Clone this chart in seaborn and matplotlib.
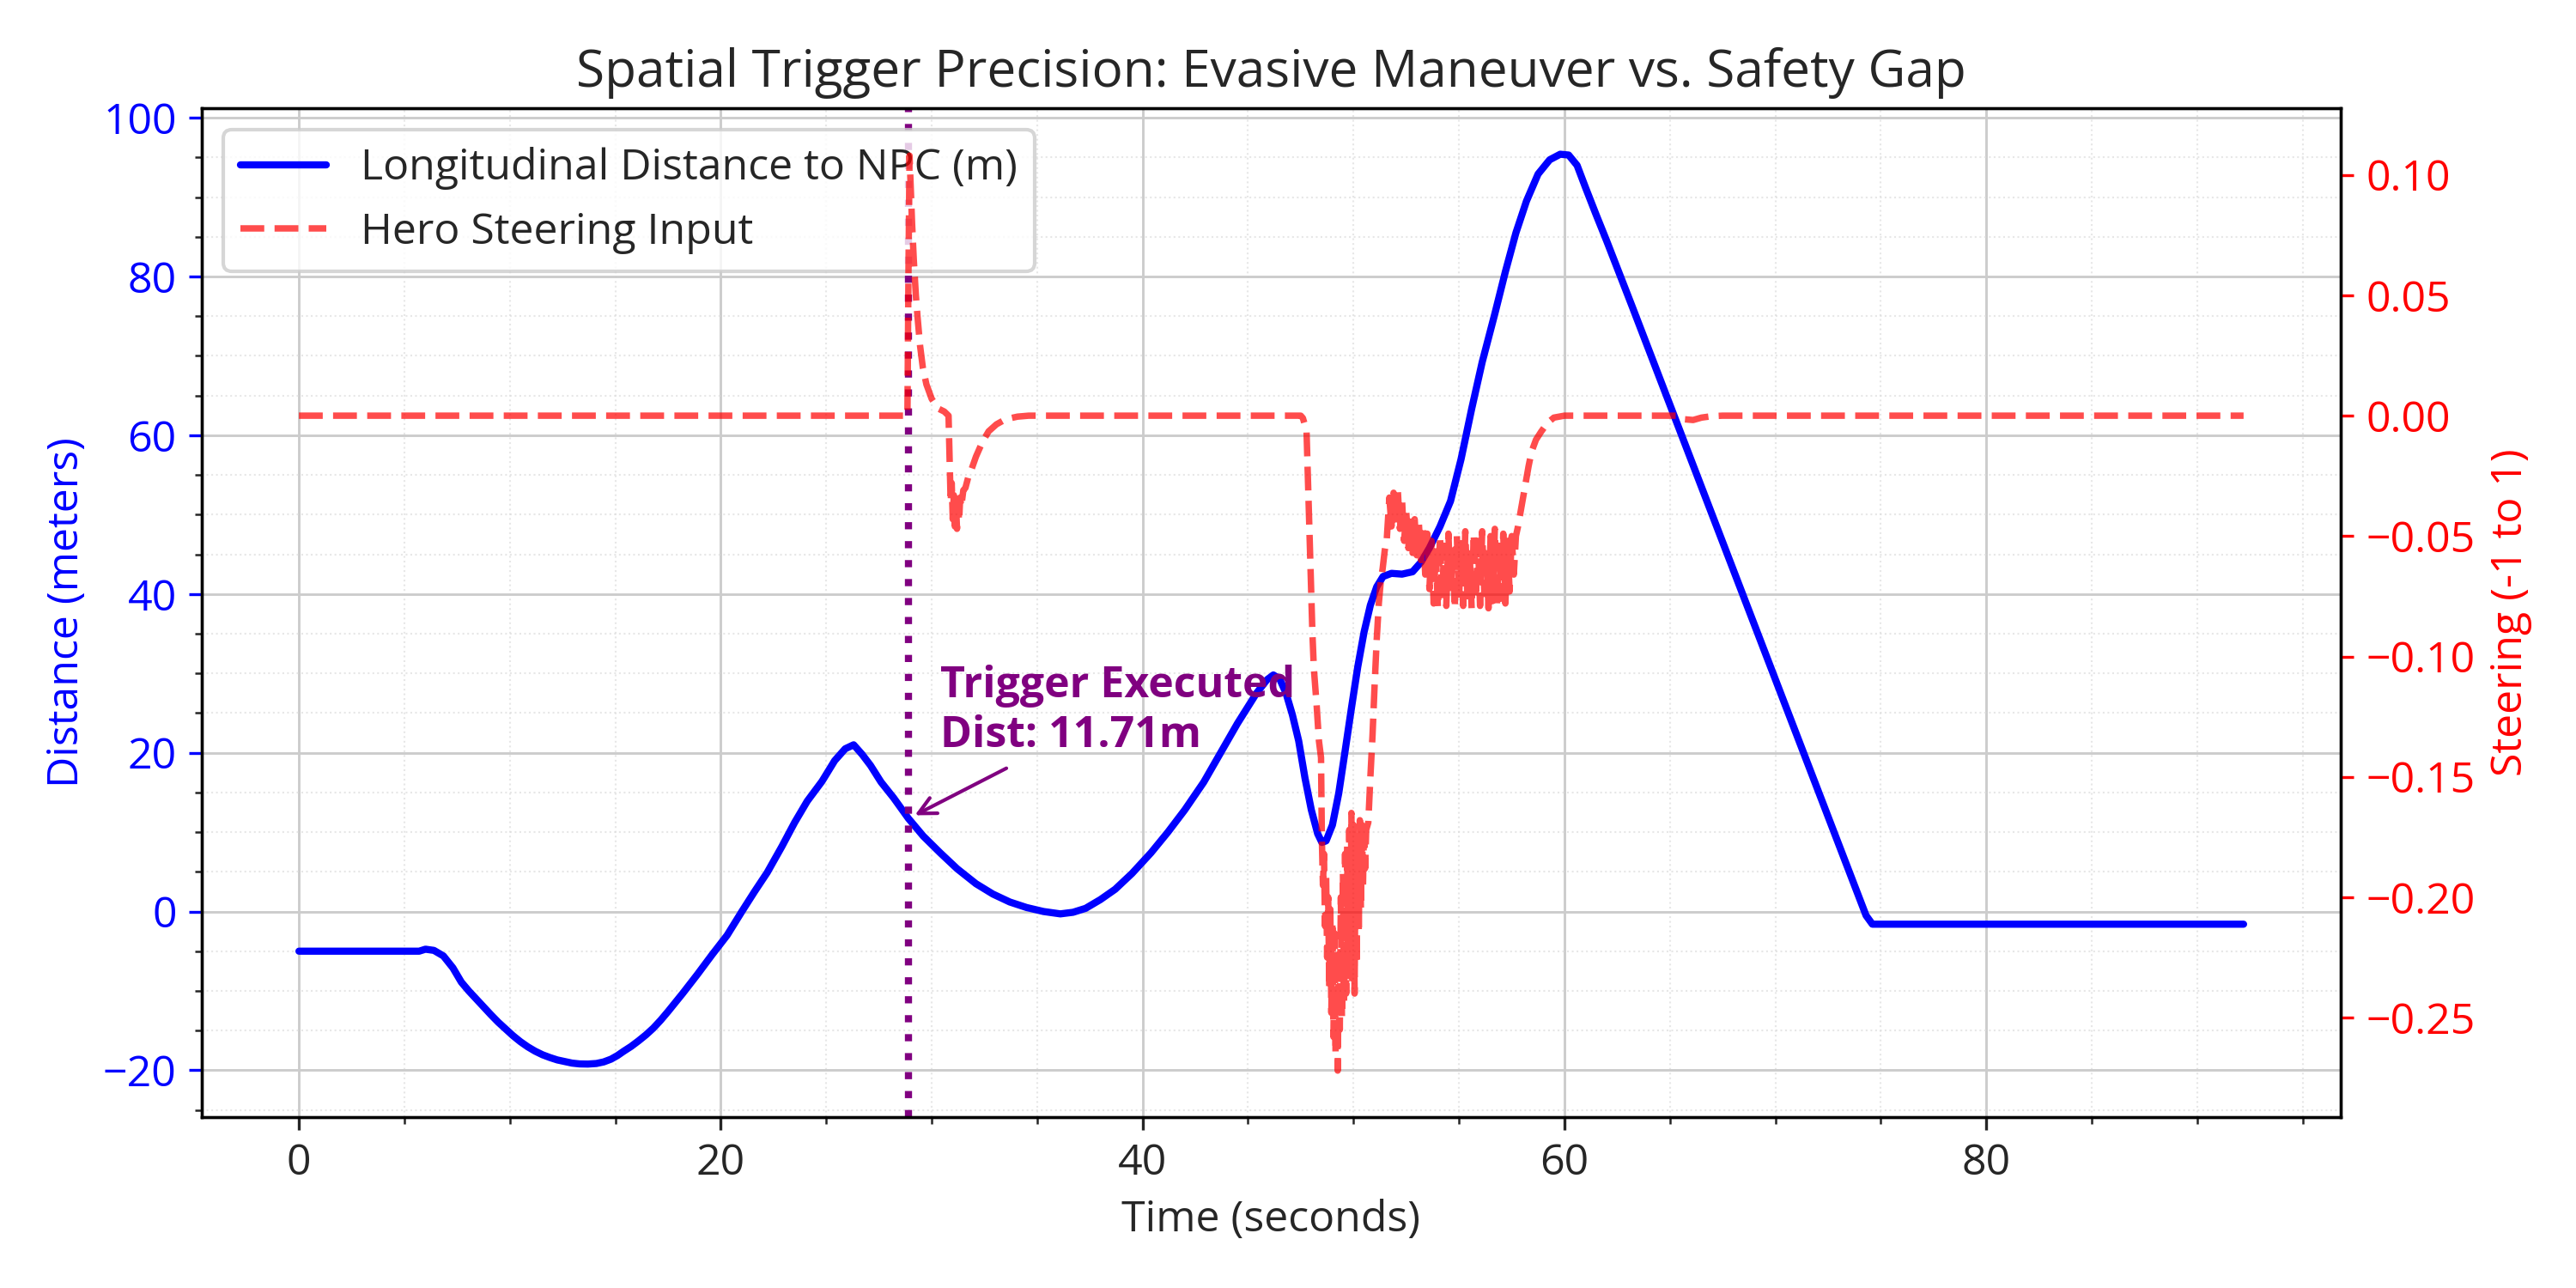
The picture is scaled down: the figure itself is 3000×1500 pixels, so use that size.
import matplotlib
matplotlib.use("Agg")
import matplotlib.pyplot as plt
import seaborn as sns
import pandas as pd

# data
dist_time = [0, 1, 2, 3, 4, 5, 5.7, 6.0, 6.4, 6.85, 7.3, 7.7, 8.05, 8.4, 8.75, 9.1, 9.45,
             9.8, 10.15, 10.5, 10.85, 11.2, 11.55, 11.9, 12.25, 12.6, 12.95, 13.3, 13.7,
             14.1, 14.45, 14.8, 15.1, 15.4, 15.75, 16.1, 16.45, 16.8, 17.15, 17.5, 17.85,
             18.2, 18.55, 18.9, 19.25, 19.6, 20.3, 21.0, 21.6, 22.2, 22.9, 23.5, 24.1,
             24.8, 25.4, 25.9, 26.3, 26.7, 27.1, 27.6, 28.2, 28.9, 29.6, 30.4, 31.2,
             32.1, 32.9, 33.7, 34.5, 35.3, 36.1, 36.7, 37.3, 38.0, 38.7, 39.5, 40.4,
             41.2, 42.0, 42.9, 43.7, 44.5, 45.4, 45.9, 46.2, 46.5, 46.8, 47.1, 47.4,
             47.7, 48.0, 48.3, 48.5, 48.7, 49.0, 49.3, 49.6, 49.9, 50.2, 50.5, 50.8,
             51.1, 51.4, 51.8, 52.3, 52.8, 53.2, 53.6, 54.1, 54.6, 55.1, 55.6, 56.1,
             56.7, 57.2, 57.7, 58.2, 58.75, 59.3, 59.8, 60.2, 60.6, 61.0, 61.5, 62.0,
             63.2, 68.3, 74.3, 74.6, 80.0, 92.2]
dist_values = [-5, -5, -5, -5, -5, -5, -5, -4.75, -4.9, -5.6, -7.1, -8.9, -10.0, -11.0,
               -12.0, -13.0, -13.95, -14.8, -15.65, -16.4, -17.05, -17.6, -18.05, -18.4,
               -18.7, -18.9, -19.1, -19.2, -19.22, -19.15, -18.95, -18.6, -18.15, -17.6,
               -17.0, -16.3, -15.55, -14.7, -13.7, -12.6, -11.45, -10.3, -9.1, -7.9,
               -6.65, -5.4, -3.0, 0.0, 2.5, 4.9, 8.2, 11.2, 13.9, 16.4, 19.0, 20.5, 21.0,
               19.8, 18.4, 16.3, 14.3, 11.71, 9.5, 7.4, 5.4, 3.5, 2.2, 1.2, 0.5, 0.0,
               -0.3, -0.1, 0.4, 1.5, 2.8, 4.8, 7.4, 10.0, 12.8, 16.3, 20.0, 23.7, 27.5,
               29.2, 29.8, 29.3, 27.5, 24.8, 21.5, 16.8, 12.8, 9.8, 8.7, 8.9, 10.9, 14.9,
               20.2, 25.6, 30.8, 35.2, 38.6, 40.9, 42.2, 42.6, 42.5, 42.8, 44.0, 45.8,
               48.5, 51.7, 57.0, 63.3, 69.2, 75.3, 80.6, 85.5, 89.5, 92.9, 94.7, 95.4,
               95.3, 94.0, 91.2, 87.8, 84.5, 76.3, 41.0, -0.5, -1.6, -1.6, -1.6]

steer_time = [0, 28.85, 28.9, 28.95, 29.0, 29.07, 29.15, 29.25, 29.33, 29.45, 29.58,
              29.75, 30.0, 30.3, 30.6, 30.8, 30.85, 30.9, 30.95, 31.0, 31.05, 31.1,
              31.15, 31.2, 31.25, 31.3, 31.35, 31.4, 31.5, 31.6, 31.75, 31.9, 32.1,
              32.4, 32.7, 33.07, 33.5, 34.07, 34.6, 47.5, 47.6, 47.7, 47.77, 47.85,
              47.95, 48.05, 48.12, 48.25, 48.36, 48.46,
              48.50, 48.55, 48.60, 48.65, 48.70, 48.75, 48.80, 48.85, 48.90, 48.95,
              49.00, 49.05, 49.10, 49.15, 49.20, 49.25, 49.30, 49.35, 49.40, 49.45,
              49.50, 49.55, 49.60, 49.65, 49.70, 49.75, 49.80, 49.85, 49.90, 49.95,
              50.00, 50.05, 50.10, 50.15, 50.20, 50.25, 50.30, 50.35, 50.40, 50.45,
              50.50, 50.55, 50.60, 50.70, 50.8, 50.9, 51.0, 51.1, 51.2, 51.3, 51.38,
              51.48, 51.58,
              51.6, 51.7, 51.8, 51.9, 52.0, 52.1, 52.2, 52.3, 52.4, 52.5, 52.6, 52.7,
              52.8, 52.9, 53.0, 53.1, 53.2, 53.3, 53.4, 53.5, 53.6, 53.7, 53.8, 53.9,
              54.0, 54.1, 54.2, 54.3, 54.4, 54.5, 54.6, 54.7, 54.8, 54.9, 55.0, 55.1,
              55.2, 55.3, 55.4, 55.5, 55.6, 55.7, 55.8, 55.9, 56.0, 56.1, 56.2, 56.3,
              56.4, 56.5, 56.6, 56.7, 56.8, 56.9, 57.0, 57.1, 57.2, 57.3, 57.4, 57.5,
              57.6, 57.7, 57.8, 58.0, 58.14, 58.3, 58.44, 58.65, 58.9, 59.2, 59.5,
              60.0, 65.4, 65.7, 66.1, 66.5, 67.0, 67.5, 92.2]
steer_values = [0, 0, 0.06, 0.108, 0.096, 0.080, 0.065, 0.050, 0.041, 0.029, 0.020,
                0.013, 0.007, 0.003, 0.0017, 0.0, -0.018, -0.036, -0.028, -0.043,
                -0.033, -0.046, -0.036, -0.047, -0.037, -0.044, -0.034, -0.038, -0.031,
                -0.030, -0.025, -0.022, -0.017, -0.011, -0.0065, -0.0036, -0.0015,
                -0.0004, 0.0, 0.0, -0.001, -0.004, -0.0055, -0.03, -0.06, -0.09, -0.105,
                -0.12, -0.135, -0.142,
                -0.176, -0.195, -0.182, -0.212, -0.190, -0.225, -0.200, -0.238, -0.205,
                -0.248, -0.210, -0.258, -0.215, -0.265, -0.222, -0.272, -0.228, -0.255,
                -0.200, -0.250, -0.190, -0.245, -0.182, -0.240, -0.178, -0.236, -0.172,
                -0.230, -0.165, -0.235, -0.170, -0.240, -0.175, -0.228, -0.172, -0.215,
                -0.168, -0.205, -0.170, -0.195, -0.168, -0.188, -0.172, -0.169, -0.150,
                -0.133, -0.112, -0.093, -0.078, -0.068, -0.0636, -0.056, -0.051,
                -0.048, -0.034, -0.046, -0.032, -0.045, -0.031, -0.047, -0.035, -0.052,
                -0.040, -0.055, -0.042, -0.057, -0.043, -0.058, -0.045, -0.060, -0.047,
                -0.066, -0.049, -0.072, -0.052, -0.078, -0.055, -0.080, -0.050, -0.076,
                -0.054, -0.079, -0.049, -0.074, -0.056, -0.080, -0.050, -0.077, -0.053,
                -0.079, -0.048, -0.075, -0.055, -0.080, -0.049, -0.076, -0.052, -0.079,
                -0.048, -0.074, -0.055, -0.080, -0.050, -0.077, -0.047, -0.079, -0.054,
                -0.076, -0.049, -0.078, -0.052, -0.073, -0.050, -0.066, -0.050, -0.046,
                -0.036, -0.029, -0.021, -0.015, -0.010, -0.0066, -0.003, -0.0008, 0.0,
                0.0, -0.0015, -0.0018, -0.0008, -0.0002, 0.0, 0.0]

trigger_time = 28.9
trigger_dist = 11.71

sns.set_style("ticks")
plt.rcParams['font.family'] = ['Open Sans', 'DejaVu Sans']
plt.rcParams['font.size'] = 12
plt.rcParams['axes.edgecolor'] = 'black'

dist_df = pd.DataFrame({'time': dist_time, 'distance': dist_values})
steer_df = pd.DataFrame({'time': steer_time, 'steer': steer_values})

fig, ax1 = plt.subplots(figsize=(10, 5), dpi=300)
fig.subplots_adjust(left=0.0783, right=0.9087, top=0.916, bottom=0.1327)

# distance on the left axis
sns.lineplot(data=dist_df, x='time', y='distance', ax=ax1, color='blue', linewidth=2,
             label='Longitudinal Distance to NPC (m)', legend=False, estimator=None)
ax1.axvline(trigger_time, color='purple', linestyle=':', linewidth=2)
ax1.set_xlabel('Time (seconds)', fontsize=12)
ax1.set_ylabel('Distance (meters)', color='blue', fontsize=12)
ax1.tick_params(axis='y', colors='blue')
ax1.set_ylim(-25.9, 101.2)
ax1.minorticks_on()
ax1.grid(which='major', color='#cccccc', linewidth=0.7)
ax1.grid(which='minor', color='#dddddd', linestyle=':', linewidth=0.5, alpha=0.7)

ax1.annotate(f'Trigger Executed\nDist: {trigger_dist:.2f}m',
             xy=(trigger_time, trigger_dist),
             xytext=(trigger_time + 1.5, trigger_dist + 9),
             color='purple', fontweight='bold', fontsize=12,
             arrowprops=dict(arrowstyle='->', color='purple', lw=1))

# steering on the right axis
ax2 = ax1.twinx()
sns.lineplot(data=steer_df, x='time', y='steer', ax=ax2, color='red', linestyle='--',
             alpha=0.7, linewidth=1.8, label='Hero Steering Input', legend=False,
             estimator=None)
ax2.set_ylabel('Steering (-1 to 1)', color='red', fontsize=12)
ax2.tick_params(axis='y', colors='red')
ax2.set_ylim(-0.2913, 0.1277)
ax2.grid(False)

h1, l1 = ax1.get_legend_handles_labels()
h2, l2 = ax2.get_legend_handles_labels()
ax1.legend(h1 + h2, l1 + l2, loc='upper left', fontsize=12)

ax1.set_title('Spatial Trigger Precision: Evasive Maneuver vs. Safety Gap', fontsize=14.5)

plt.savefig('out.png', dpi=300)
plt.close()
